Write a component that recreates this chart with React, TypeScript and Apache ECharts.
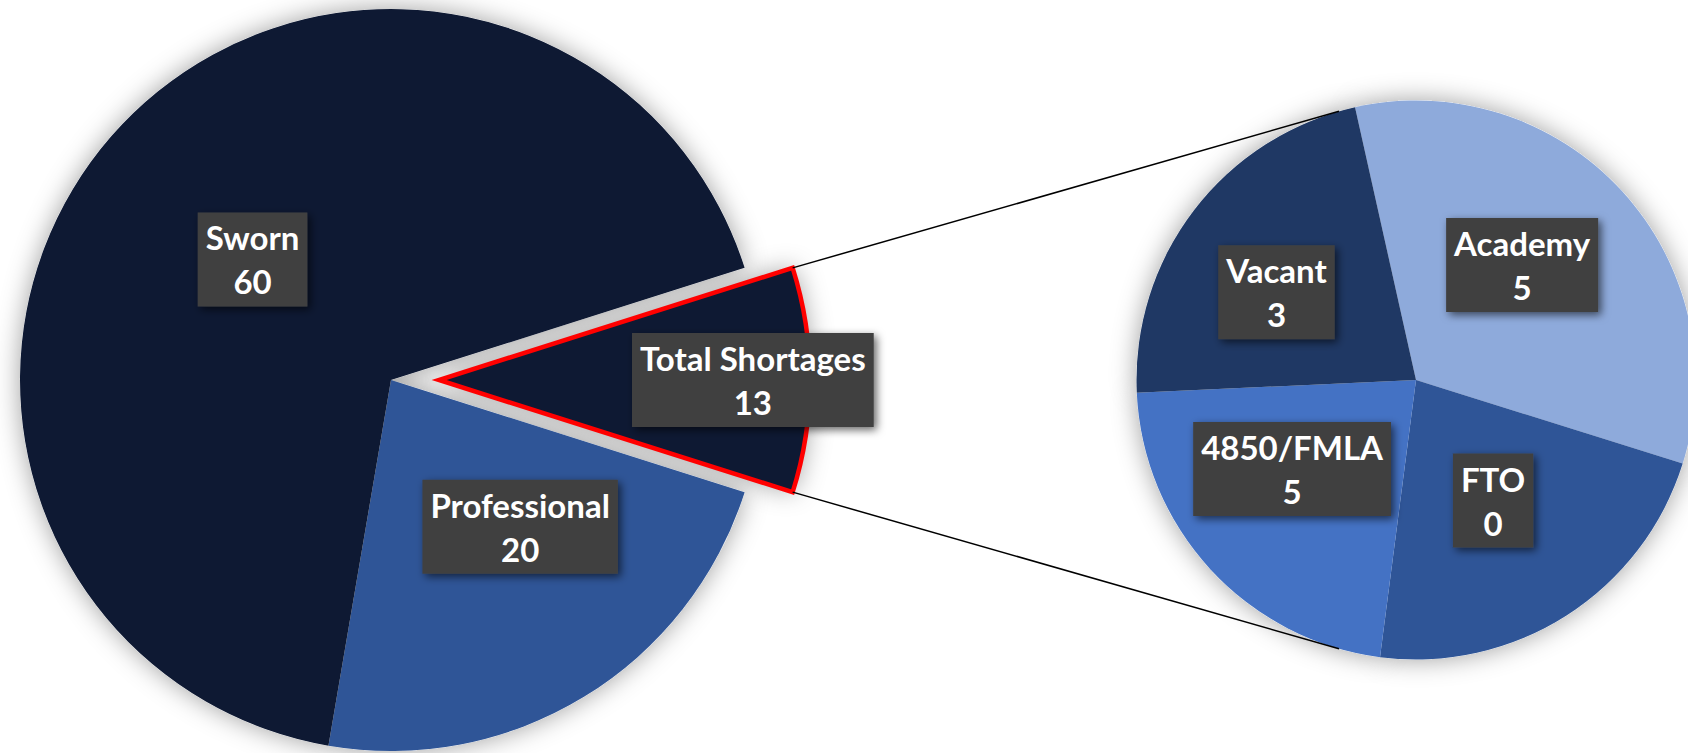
import React, { useEffect, useRef } from "react";
import * as echarts from "echarts";

// ---- data ----
const mainCategories = ["Total Shortages", "Professional", "Sworn"];
const mainLabelValues = [13, 20, 60];
// slice sizes as drawn in the picture (labels show mainLabelValues)
const mainSliceShares = [8.7, 20.3, 60];
const mainColors = ["#0e1933", "#2f5597", "#0e1933"];
const explodedIndex = 0;

const detailCategories = ["Academy", "FTO", "4850/FMLA", "Vacant"];
const detailLabelValues = [5, 0, 5, 3];
const detailSliceShares = [6, 4, 4, 4];
const detailColors = ["#8eaadb", "#2f5597", "#4472c4", "#1f3864"];

// ---- layout ----
const W = 1688;
const H = 753;
const MAIN = { cx: 391, cy: 380, r: 371, explode: 48 };
const DETAIL = { cx: 1416, cy: 380, r: 279.5, startAngle: 102.6 };
// [radial fraction, angle tweak in degrees] for each label box
const mainLabelPlace = [[0.846, 0], [0.527, 10], [0.495, 0]];
const detailLabelPlace = [[0.56, 4.7], [0.512, 0], [0.546, -6.9], [0.59, 5.2]];

const sum = (a: number[]) => a.reduce((s, v) => s + v, 0);
const rad = (d: number) => (d * Math.PI) / 180;

const mainStart = (mainSliceShares[explodedIndex] / sum(mainSliceShares)) * 180;

function midAngle(shares: number[], start: number, i: number) {
  const total = sum(shares);
  const before = sum(shares.slice(0, i));
  return start - ((before + shares[i] / 2) / total) * 360;
}

function tangentPoints(px: number, py: number, cx: number, cy: number, r: number) {
  const dx = px - cx;
  const dy = py - cy;
  const d = Math.sqrt(dx * dx + dy * dy);
  const th = Math.atan2(dy, dx);
  const a = Math.acos(r / d);
  return [th + a, th - a].map((t) => [cx + r * Math.cos(t), cy + r * Math.sin(t)]);
}

const labelStyle = {
  show: true,
  position: "inside",
  color: "#ffffff",
  fontFamily: "Lato",
  fontWeight: "bold",
  fontSize: 33,
  lineHeight: 44,
  align: "center",
  backgroundColor: "#414141",
  padding: [3, 8, 3, 8],
  shadowColor: "rgba(0,0,0,0.6)",
  shadowBlur: 8,
  shadowOffsetX: 3,
  shadowOffsetY: 3,
  formatter: (p: any) => `${p.name}\n${p.data.shown}`,
};

export default function App() {
  const ref = useRef<HTMLDivElement>(null);

  useEffect(() => {
    document.body.style.margin = "0";
    const chart = echarts.init(ref.current!, undefined, { renderer: "svg" });

    // exploded slice geometry
    const emid = midAngle(mainSliceShares, mainStart, explodedIndex);
    const ex = MAIN.cx + MAIN.explode * Math.cos(rad(emid));
    const ey = MAIN.cy - MAIN.explode * Math.sin(rad(emid));
    const half = mainStart;
    const topCorner = [ex + MAIN.r * Math.cos(rad(emid + half)), ey - MAIN.r * Math.sin(rad(emid + half))];
    const botCorner = [ex + MAIN.r * Math.cos(rad(emid - half)), ey - MAIN.r * Math.sin(rad(emid - half))];
    const tTop = tangentPoints(topCorner[0], topCorner[1], DETAIL.cx, DETAIL.cy, DETAIL.r).sort((a, b) => a[1] - b[1])[0];
    const tBot = tangentPoints(botCorner[0], botCorner[1], DETAIL.cx, DETAIL.cy, DETAIL.r).sort((a, b) => b[1] - a[1])[0];

    // build main pie data; "exploded" = true keeps only the exploded slice visible
    const mainData = (exploded: boolean) =>
      mainCategories.map((name, i) => {
        const visible = exploded ? i === explodedIndex : i !== explodedIndex;
        return {
          name,
          value: mainSliceShares[i],
          shown: mainLabelValues[i],
          label: { show: visible },
          itemStyle:
            i === explodedIndex
              ? { color: mainColors[i], borderColor: "#ff0000", borderWidth: 4.5, borderJoin: "miter", opacity: visible ? 1 : 0 }
              : { color: mainColors[i], borderWidth: 0, opacity: visible ? 1 : 0 },
        };
      });
    const detailData = detailCategories.map((name, i) => ({
      name,
      value: detailSliceShares[i],
      shown: detailLabelValues[i],
      itemStyle: { color: detailColors[i], borderWidth: 0 },
    }));

    const mainLabelLayout = (centerX: number, centerY: number) => (params: any) => {
      const i = params.dataIndex;
      const m = midAngle(mainSliceShares, mainStart, i);
      const [f, tw] = mainLabelPlace[i];
      return {
        x: centerX + f * MAIN.r * Math.cos(rad(m + tw)),
        y: centerY - f * MAIN.r * Math.sin(rad(m + tw)),
        align: "center",
        verticalAlign: "middle",
      };
    };
    const detailLabelLayout = (params: any) => {
      const i = params.dataIndex;
      const m = midAngle(detailSliceShares, DETAIL.startAngle, i);
      const [f, tw] = detailLabelPlace[i];
      return {
        x: DETAIL.cx + f * DETAIL.r * Math.cos(rad(m + tw)),
        y: DETAIL.cy - f * DETAIL.r * Math.sin(rad(m + tw)),
        align: "center",
        verticalAlign: "middle",
      };
    };

    const shadowItem = { color: "#ffffff", shadowBlur: 26, shadowColor: "rgba(0,0,0,0.38)", borderWidth: 0 };

    const mainSeries = (centerX: number, centerY: number, exploded: boolean) => ({
      type: "pie",
      z: 2,
      center: [centerX, centerY],
      radius: [0, MAIN.r],
      startAngle: mainStart,
      clockwise: true,
      avoidLabelOverlap: false,
      label: labelStyle,
      labelLine: { show: false },
      labelLayout: mainLabelLayout(centerX, centerY),
      emphasis: { disabled: true },
      data: mainData(exploded),
    });
    const mainShadow = (centerX: number, centerY: number, exploded: boolean) => ({
      type: "pie",
      z: 1,
      silent: true,
      center: [centerX, centerY],
      radius: [0, MAIN.r],
      startAngle: mainStart,
      clockwise: true,
      label: { show: false },
      labelLine: { show: false },
      emphasis: { disabled: true },
      data: mainCategories.map((name, i) => {
        const visible = exploded ? i === explodedIndex : i !== explodedIndex;
        return { name, value: mainSliceShares[i], itemStyle: { ...shadowItem, opacity: visible ? 1 : 0 } };
      }),
    });

    chart.setOption({
      animation: false,
      backgroundColor: "#ffffff",
      series: [
        mainShadow(MAIN.cx, MAIN.cy, false),
        mainShadow(ex, ey, true),
        {
          type: "pie",
          z: 1,
          silent: true,
          center: [DETAIL.cx, DETAIL.cy],
          radius: [0, DETAIL.r],
          startAngle: DETAIL.startAngle,
          clockwise: true,
          label: { show: false },
          labelLine: { show: false },
          emphasis: { disabled: true },
          data: detailData.map((d) => ({ name: d.name, value: d.value, itemStyle: shadowItem })),
        },
        mainSeries(MAIN.cx, MAIN.cy, false),
        mainSeries(ex, ey, true),
        {
          type: "pie",
          z: 2,
          center: [DETAIL.cx, DETAIL.cy],
          radius: [0, DETAIL.r],
          startAngle: DETAIL.startAngle,
          clockwise: true,
          avoidLabelOverlap: false,
          label: labelStyle,
          labelLine: { show: false },
          labelLayout: detailLabelLayout,
          emphasis: { disabled: true },
          data: detailData,
        },
      ],
      graphic: [
        {
          type: "line",
          z: 5,
          silent: true,
          shape: { x1: topCorner[0], y1: topCorner[1], x2: tTop[0], y2: tTop[1] },
          style: { stroke: "#000000", lineWidth: 1.5 },
        },
        {
          type: "line",
          z: 5,
          silent: true,
          shape: { x1: botCorner[0], y1: botCorner[1], x2: tBot[0], y2: tBot[1] },
          style: { stroke: "#000000", lineWidth: 1.5 },
        },
      ],
    });

    return () => chart.dispose();
  }, []);

  return <div ref={ref} style={{ position: "absolute", left: 0, top: 0, width: W, height: H }} />;
}
